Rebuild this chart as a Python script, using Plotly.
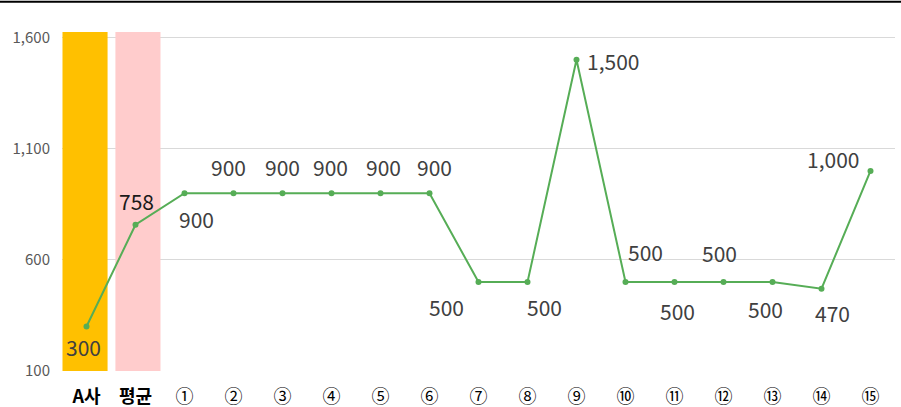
import plotly.graph_objects as go

categories = ["A사", "평균", "①", "②", "③", "④", "⑤", "⑥", "⑦", "⑧", "⑨", "⑩", "⑪", "⑫", "⑬", "⑭", "⑮"]
values = [300, 758, 900, 900, 900, 900, 900, 900, 500, 500, 1500, 500, 500, 500, 500, 470, 1000]
tick_labels = ["<b>A사</b>", "<b>평균</b>", "①", "②", "③", "④", "⑤", "⑥", "⑦", "⑧", "⑨", "⑩", "⑪", "⑫", "⑬", "⑭", "⑮"]

highlight_cats = ["A사", "평균"]
highlight_top = [1625, 1625]
highlight_colors = ["#FFC000", "#FFCCCC"]

# label offsets (pixels) relative to each point
label_dx = [-3, 1, 12, -5, 0, -1, 3, 5, -32, 17, 36, 20, 3, -4, -7, 11, -38]
label_dy = [-20, 24, -26, 26, 26, 26, 26, 26, -25, -25, -1, 30, -29, 29, -27, -24, 12]
label_colors = ["#404040", "#1A1A1A"] + ["#404040"] * 15

font = "Noto Sans CJK KR"
line_color = "#56AD56"

fig = go.Figure()
fig.add_trace(go.Bar(
    x=highlight_cats, y=[t - 100 for t in highlight_top], base=100,
    marker=dict(color=highlight_colors, line=dict(width=0)),
    width=0.92, offset=[-0.49, -0.41], hoverinfo="skip", showlegend=False,
))
fig.add_trace(go.Scatter(
    x=categories, y=values, mode="lines+markers",
    line=dict(color=line_color, width=2),
    marker=dict(color=line_color, size=6),
    showlegend=False, cliponaxis=False,
))

annotations = []
for c, v, dx, dy, col in zip(categories, values, label_dx, label_dy, label_colors):
    annotations.append(dict(
        x=c, y=v, xref="x", yref="y", text=f"{v:,}", showarrow=False,
        xshift=dx, yshift=dy, xanchor="center", yanchor="middle",
        font=dict(family=font, size=21, color=col),
    ))

fig.update_layout(
    width=901, height=407,
    margin=dict(l=62, r=6, t=32, b=36, autoexpand=False),
    paper_bgcolor="white", plot_bgcolor="white",
    font=dict(family=font),
    annotations=annotations,
    xaxis=dict(
        type="category", categoryorder="array", categoryarray=categories,
        tickvals=categories, ticktext=tick_labels,
        showgrid=False, showline=False, zeroline=False, ticks="",
        tickfont=dict(family=font, size=18, color="#000000"),
        ticklabelstandoff=13, automargin=False,
        range=[-0.5, len(categories) - 0.5],
    ),
    yaxis=dict(
        range=[100, 1625], tickvals=[100, 600, 1100, 1600],
        ticktext=["100", "600", "1,100", "1,600"],
        showgrid=True, gridcolor="#D9D9D9", gridwidth=1, zeroline=False,
        tickfont=dict(family=font, size=15, color="#595959"),
        ticks="", ticklabelstandoff=11, automargin=False,
    ),
    shapes=[dict(type="line", xref="paper", yref="paper",
                 x0=-0.08, x1=1.01, y0=1.089, y1=1.089,
                 line=dict(color="#000000", width=2))],
)
fig.write_html("out.html", post_script="document.body.style.margin='0';",
               config={"displayModeBar": False})
